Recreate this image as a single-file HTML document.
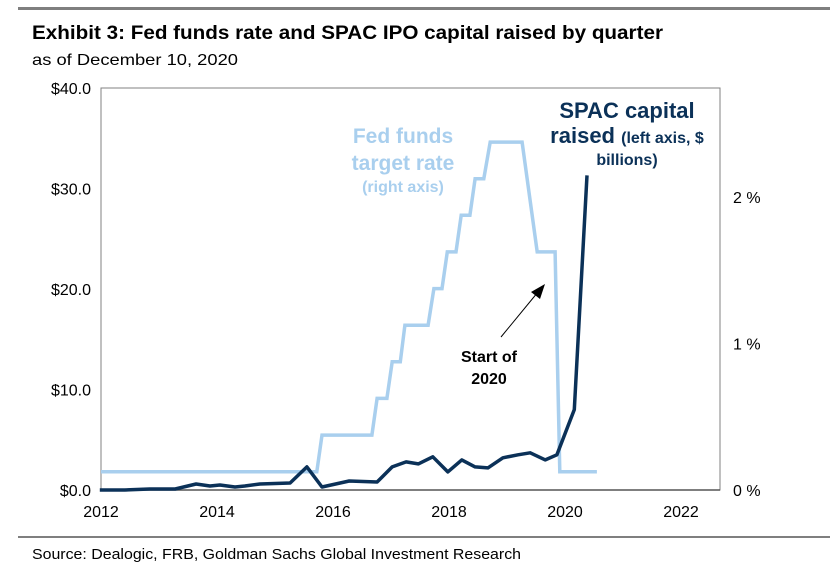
<!DOCTYPE html>
<html><head><meta charset="utf-8"><style>
body{margin:0;background:#fff;width:830px;height:577px;overflow:hidden;font-family:"Liberation Sans",Arial,sans-serif}
svg{display:block}
</style></head><body>
<svg id="chart" width="830" height="577">
<rect x="18" y="7" width="812" height="3" fill="#7f7f7f"/>
<text x="32" y="39" font-size="19" font-weight="bold" fill="#000" textLength="631" lengthAdjust="spacingAndGlyphs">Exhibit 3: Fed funds rate and SPAC IPO capital raised by quarter</text>
<text x="32" y="65" font-size="16" fill="#000" textLength="206" lengthAdjust="spacingAndGlyphs">as of December 10, 2020</text>
<rect x="101" y="88" width="619" height="402" fill="none" stroke="#808080" stroke-width="1"/>
<line x1="101" y1="490" x2="720" y2="490" stroke="#555" stroke-width="1.5"/>
<g id="yl"></g>
<g id="yr"></g>
<g id="xa"></g>
<path id="fed" fill="none" stroke="#a9cfee" stroke-width="3.5" stroke-linejoin="miter"/>
<path id="spac" fill="none" stroke="#0b3158" stroke-width="3.5" stroke-linejoin="round"/>
<g fill="#a9cfee" font-weight="bold" text-anchor="middle">
<text x="403" y="143" font-size="21">Fed funds</text>
<text x="403" y="170" font-size="21">target rate</text>
<text x="403" y="192" font-size="16">(right axis)</text>
</g>
<g fill="#0b3158" font-weight="bold" text-anchor="middle">
<text x="627" y="118" font-size="22">SPAC capital</text>
<text x="627" y="143"><tspan font-size="22">raised </tspan><tspan font-size="16">(left axis, $</tspan></text>
<text x="627" y="165" font-size="16">billions)</text>
</g>
<g>
<line x1="501" y1="337" x2="538" y2="292" stroke="#000" stroke-width="1"/>
<polygon points="545,284 531,292 540,299" fill="#000"/>
<text x="489" y="362" font-size="16" font-weight="bold" text-anchor="middle">Start of</text>
<text x="489" y="384" font-size="16" font-weight="bold" text-anchor="middle">2020</text>
</g>
<rect x="18" y="536" width="812" height="2" fill="#7f7f7f"/>
<text x="32" y="559" font-size="15" fill="#000" textLength="489" lengthAdjust="spacingAndGlyphs">Source: Dealogic, FRB, Goldman Sachs Global Investment Research</text>
</svg>
<script>
const leftTicks=[0,10,20,30,40];
const leftTickLabels=["$0.0","$10.0","$20.0","$30.0","$40.0"];
const rightTicks=[0,1,2];
const rightTickLabels=["0 %","1 %","2 %"];
const xTicks=[2012,2014,2016,2018,2020,2022];
const fedDates=[2012.0,2015.72,2015.81,2016.67,2016.76,2016.93,2017.02,2017.16,2017.24,2017.64,2017.74,2017.88,2017.97,2018.12,2018.21,2018.36,2018.45,2018.60,2018.71,2019.26,2019.52,2019.83,2019.91,2020.55];
const fedRates=[0.125,0.125,0.375,0.375,0.625,0.625,0.875,0.875,1.125,1.125,1.375,1.375,1.625,1.625,1.875,1.875,2.125,2.125,2.375,2.375,1.625,1.625,0.125,0.125];
const spacDates=[2011.98,2012.41,2012.84,2013.28,2013.64,2013.88,2014.05,2014.31,2014.48,2014.74,2015.26,2015.55,2015.81,2016.28,2016.76,2017.02,2017.26,2017.47,2017.72,2017.98,2018.22,2018.45,2018.67,2018.93,2019.19,2019.40,2019.66,2019.86,2020.16,2020.38];
const spacValues=[0.0,0.0,0.1,0.1,0.6,0.4,0.5,0.3,0.4,0.6,0.7,2.3,0.3,0.9,0.8,2.3,2.8,2.6,3.3,1.8,3.0,2.3,2.2,3.2,3.5,3.7,3.0,3.5,8.0,31.3];
const X=y=>101+(y-2012)*58;
const YL=v=>490-v*10.05;
const YR=v=>490-v*146.5;
const NS="http://www.w3.org/2000/svg";
function txt(g,x,y,s,anchor){const t=document.createElementNS(NS,'text');t.setAttribute('x',x);t.setAttribute('y',y);t.setAttribute('font-size','16');t.setAttribute('text-anchor',anchor);t.textContent=s;g.appendChild(t);return t;}
const yl=document.getElementById('yl');
leftTicks.forEach((v,i)=>{const t=txt(yl,91,YL(v)+6,leftTickLabels[i],'end');

});
const yr=document.getElementById('yr');
rightTicks.forEach((v,i)=>{const t=txt(yr,733,YR(v)+6,rightTickLabels[i],'start');

});
const xa=document.getElementById('xa');
xTicks.forEach(v=>{const t=txt(xa,X(v),517,String(v),'middle');

});
document.getElementById('fed').setAttribute('d',fedDates.map((d,i)=>(i?'L':'M')+X(d).toFixed(1)+','+YR(fedRates[i]).toFixed(1)).join(''));
document.getElementById('spac').setAttribute('d',spacDates.map((d,i)=>(i?'L':'M')+X(d).toFixed(1)+','+YL(spacValues[i]).toFixed(1)).join(''));
</script>
</body></html>
